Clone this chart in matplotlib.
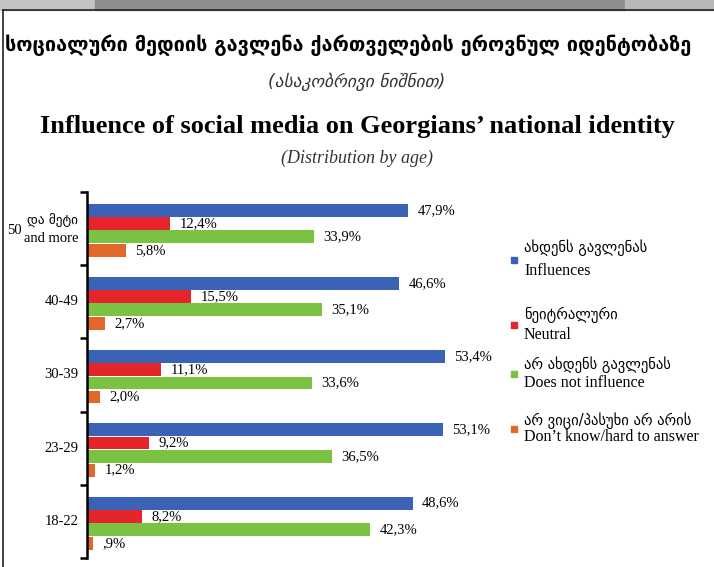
import numpy as np
import matplotlib.pyplot as plt
from matplotlib.patches import Rectangle
from matplotlib.lines import Line2D

SERIF = ['Liberation Serif', 'DejaVu Sans']
plt.rcParams['font.family'] = SERIF

# data (bottom to top)
ages = ['18-22', '23-29', '30-39', '40-49', '50']
influences = [48.6, 53.1, 53.4, 46.6, 47.9]
neutral = [8.2, 9.2, 11.1, 15.5, 12.4]
not_influence = [42.3, 36.5, 33.6, 35.1, 33.9]
dont_know = [0.9, 1.2, 2.0, 2.7, 5.8]
value_labels = [
    ['48,6%', '53,1%', '53,4%', '46,6%', '47,9%'],
    ['8,2%', '9,2%', '11,1%', '15,5%', '12,4%'],
    ['42,3%', '36,5%', '33,6%', '35,1%', '33,9%'],
    [',9%', '1,2%', '2,0%', '2,7%', '5,8%'],
]
series = [influences, neutral, not_influence, dont_know]
names_ka = ['ახდენს გავლენას', 'ნეიტრალური', 'არ ახდენს გავლენას', 'არ ვიცი/პასუხი არ არის']
names_en = ['Influences', 'Neutral', 'Does not influence', 'Don\u2019t know/hard to answer']
colors = ['#3A62B5', '#E5242B', '#7CC242', '#E2672A']

fig = plt.figure(figsize=(7.14, 5.67), dpi=100)
W, H = 714, 567

def fx(px):
    return px / W

def fy(py):
    return 1 - py / H

# screenshot frame
fig.patches.append(Rectangle((0, fy(10)), fx(95), 10 / H, transform=fig.transFigure, color='#c4c4c4', zorder=0))
fig.patches.append(Rectangle((fx(95), fy(10)), fx(530), 10 / H, transform=fig.transFigure, color='#8e8e8e', zorder=0))
fig.patches.append(Rectangle((fx(625), fy(10)), fx(89), 10 / H, transform=fig.transFigure, color='#b8b8b8', zorder=0))
fig.lines.append(Line2D([fx(3), 1], [fy(10), fy(10)], transform=fig.transFigure, color='#222222', lw=1.2))
fig.lines.append(Line2D([fx(3), fx(3)], [0, fy(10)], transform=fig.transFigure, color='#222222', lw=1.2))

# titles
fig.text(fx(348), fy(45), 'სოციალური მედიის გავლენა ქართველების ეროვნულ იდენტობაზე',
         ha='center', va='center', fontsize=14.3, fontweight='bold', family=['DejaVu Sans'])
fig.text(0.5, fy(82), '(ასაკობრივი ნიშნით)', ha='center', va='center',
         fontsize=12.5, style='italic', color='#333333', family=['DejaVu Sans'])
fig.text(0.5, fy(127), 'Influence of social media on Georgians\u2019 national identity',
         ha='center', va='center', fontsize=19, fontweight='bold')
fig.text(0.5, fy(158), '(Distribution by age)', ha='center', va='center',
         fontsize=13, style='italic', color='#333333')

ax = fig.add_axes([fx(87), fy(558), fx(402), (558 - 192) / H])
offsets = [0.75, 0.57, 0.39, 0.20]
bar_h = 0.175
for s, (vals, c, labs) in enumerate(zip(series, colors, value_labels)):
    y = np.arange(len(ages)) + offsets[s]
    ax.barh(y, vals, height=bar_h, color=c, edgecolor='none')
    for yi, v, lab in zip(y, vals, labs):
        ax.text(v + 1.4, yi, lab, va='center', ha='left', fontsize=10.5)

ax.set_xlim(0, 60)
ax.set_ylim(0, len(ages))
ax.set_yticks(np.arange(len(ages) + 1))
ax.set_yticklabels([])
ax.tick_params(axis='y', direction='out', length=5, width=1.8, color='black')
ax.set_xticks([])
for sp in ['top', 'right', 'bottom']:
    ax.spines[sp].set_visible(False)
ax.spines['left'].set_linewidth(1.8)

# category labels
for i, a in enumerate(ages):
    if a == '50':
        continue
    ax.text(-1.3, i + 0.5, a, ha='right', va='center', fontsize=10.5)
top = len(ages) - 1
ax.text(-9.8, top + 0.5 - 0.03, '50', ha='right', va='center', fontsize=10.5)
ax.text(-1.3, top + 0.5 + 0.11, 'და მეტი', ha='right', va='center', fontsize=9.5, family=['DejaVu Sans'])
ax.text(-1.3, top + 0.5 - 0.14, 'and more', ha='right', va='center', fontsize=10.5)

# legend
leg_y = [[248, 271], [315, 335], [365, 383], [421, 437]]
for c, ka, en, (y1, y2) in zip(colors, names_ka, names_en, leg_y):
    fig.patches.append(Rectangle((fx(511), fy((y1 + y2) / 2 + 3)), fx(6), 6 / H,
                                 transform=fig.transFigure, color=c))
    fig.text(fx(524), fy(y1), ka, ha='left', va='center', fontsize=10.5, family=['DejaVu Sans'])
    fig.text(fx(524), fy(y2), en, ha='left', va='center', fontsize=11.5)

fig.savefig('out.png', dpi=100)
